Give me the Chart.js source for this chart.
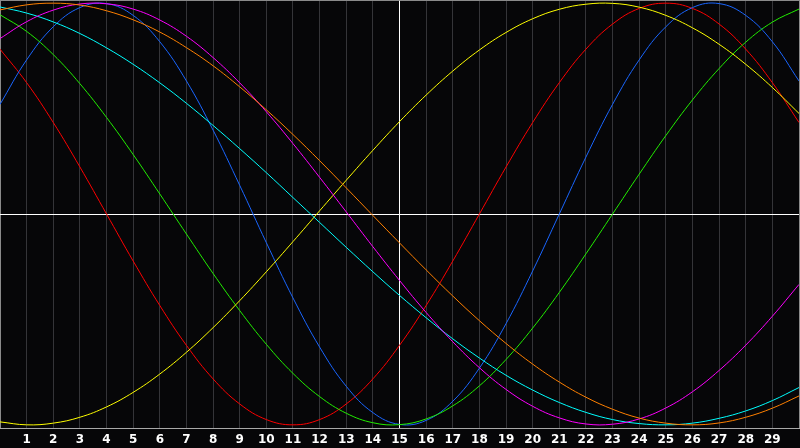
<!DOCTYPE html>
<html>
<head>
<meta charset="utf-8">
<script src="https://cdn.jsdelivr.net/npm/chart.js@4/dist/chart.umd.min.js"></script>
<style>
  html, body { margin: 0; padding: 0; background: #060608; }
  #wrap { width: 800px; height: 448px; position: relative; }
</style>
</head>
<body>
<div id="wrap"><canvas id="chart"></canvas></div>
<script>
// day index along the x axis
const days = [0, 1, 2, 3, 4, 5, 6, 7, 8, 9, 10, 11, 12, 13, 14, 15, 16, 17, 18, 19, 20, 21, 22, 23, 24, 25, 26, 27, 28, 29, 30];
const tickLabels = ['', '1', '2', '3', '4', '5', '6', '7', '8', '9', '10', '11', '12', '13', '14', '15', '16', '17', '18', '19', '20', '21', '22', '23', '24', '25', '26', '27', '28', '29', ''];

// values, one per day
const emotional = [0.782, 0.623, 0.434, 0.223, 0, -0.223, -0.434, -0.623, -0.782, -0.901, -0.975, -1, -0.975, -0.901, -0.782, -0.623, -0.434, -0.223, 0, 0.223, 0.434, 0.623, 0.782, 0.901, 0.975, 1, 0.975, 0.901, 0.782, 0.623, 0.434];
const intellectual = [0.945, 0.866, 0.756, 0.618, 0.458, 0.282, 0.095, -0.095, -0.282, -0.458, -0.618, -0.756, -0.866, -0.945, -0.990, -0.999, -0.972, -0.910, -0.815, -0.690, -0.541, -0.372, -0.189, 0, 0.189, 0.372, 0.541, 0.690, 0.815, 0.910, 0.972];
const physical = [0.520, 0.731, 0.888, 0.979, 0.998, 0.942, 0.817, 0.631, 0.398, 0.136, -0.136, -0.398, -0.631, -0.817, -0.942, -0.998, -0.979, -0.888, -0.731, -0.520, -0.270, 0, 0.270, 0.520, 0.731, 0.888, 0.979, 0.998, 0.942, 0.817, 0.631];
const spiritual = [0.982, 0.953, 0.911, 0.856, 0.788, 0.710, 0.622, 0.525, 0.420, 0.310, 0.196, 0.078, -0.040, -0.158, -0.274, -0.386, -0.492, -0.592, -0.683, -0.765, -0.835, -0.894, -0.941, -0.975, -0.994, -1.000, -0.992, -0.969, -0.934, -0.885, -0.823];
const aesthetic = [-0.986, -1.000, -0.992, -0.964, -0.915, -0.846, -0.759, -0.656, -0.539, -0.411, -0.274, -0.131, 0.015, 0.160, 0.302, 0.438, 0.564, 0.678, 0.778, 0.861, 0.926, 0.971, 0.995, 0.999, 0.981, 0.942, 0.883, 0.805, 0.710, 0.600, 0.477];
const intuitive = [0.832, 0.912, 0.967, 0.996, 0.997, 0.972, 0.920, 0.843, 0.742, 0.622, 0.485, 0.334, 0.174, 0.010, -0.155, -0.315, -0.467, -0.606, -0.729, -0.832, -0.912, -0.967, -0.996, -0.997, -0.972, -0.920, -0.843, -0.742, -0.622, -0.485, -0.334];
const awareness = [0.968, 0.992, 1.000, 0.991, 0.964, 0.921, 0.863, 0.789, 0.703, 0.603, 0.494, 0.377, 0.253, 0.124, -0.007, -0.137, -0.265, -0.389, -0.506, -0.614, -0.712, -0.797, -0.869, -0.926, -0.968, -0.992, -1.000, -0.991, -0.964, -0.921, -0.863];

const YMAX = 1.015;

function pts(vals) {
    return days.map((d, i) => ({ x: d, y: vals[i] }));
}

function series(label, vals, color) {
    return {
        label: label,
        data: pts(vals),
        borderColor: color,
        borderWidth: 1,
        pointRadius: 0,
        tension: 0.4,
        fill: false
    };
}

const ctx = document.getElementById("chart").getContext("2d");
const chart = new Chart(ctx, {
    type: 'line',
    data: {
        datasets: [
            series('Awareness', awareness, '#ff8000'),
            series('Intuitive', intuitive, '#ff00ff'),
            series('Spiritual', spiritual, '#00ffff'),
            series('Aesthetic', aesthetic, '#ffff00'),
            series('Intellectual', intellectual, '#22ee00'),
            series('Physical', physical, '#1a66ff'),
            series('Emotional', emotional, '#ff0000')
        ]
    },
    options: {
        responsive: true,
        maintainAspectRatio: false,
        animation: false,
        layout: { padding: { left: 0, right: 1, top: 0, bottom: 0 } },
        plugins: {
            legend: { display: false },
            tooltip: { enabled: false }
        },
        scales: {
            x: {
                type: 'linear',
                min: 0,
                max: 30,
                afterFit: s => {
                    s.height = 20;
                    s.paddingLeft = 0;
                    s.paddingRight = 0;
                },
                ticks: {
                    stepSize: 1,
                    autoSkip: false,
                    maxRotation: 0,
                    padding: 5,
                    color: '#ffffff',
                    font: { family: 'DejaVu Sans', size: 12, weight: 'bold' },
                    callback: (v) => tickLabels[v] ?? ''
                },
                grid: {
                    drawTicks: false,
                    lineWidth: 1,
                    color: c => {
                        const v = c.tick ? c.tick.value : null;
                        if (v === 15) return '#ffffff';
                        if (v === 0 || v === 30) return '#8a8a8a';
                        return '#343438';
                    }
                },
                border: { display: true, color: '#a8a8a8', width: 1 }
            },
            y: {
                type: 'linear',
                min: -YMAX,
                max: YMAX,
                afterBuildTicks: s => {
                    s.ticks = [{ value: -YMAX }, { value: 0 }, { value: YMAX }];
                },
                afterFit: s => {
                    s.width = 0;
                    s.paddingTop = 0;
                    s.paddingBottom = 0;
                },
                ticks: { display: false },
                grid: {
                    drawTicks: false,
                    lineWidth: 1,
                    color: c => {
                        const v = c.tick ? c.tick.value : null;
                        if (v === 0) return '#ffffff';
                        if (v === YMAX) return '#8a8a8a';
                        return 'rgba(0,0,0,0)';
                    }
                },
                border: { display: false }
            }
        }
    }
});
</script>
</body>
</html>
